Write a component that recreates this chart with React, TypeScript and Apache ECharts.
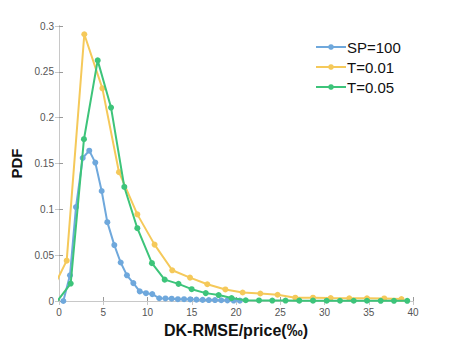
import React, { useEffect, useRef } from "react";
import * as echarts from "echarts";

const blueX = [0.49, 1.24, 1.92, 2.68, 3.42, 4.1, 4.82, 5.46, 6.25, 6.97, 7.68, 8.4, 9.12, 9.83, 10.54, 11.33, 12.03, 12.73, 13.43, 14.13, 14.83, 15.53, 16.23, 16.93, 17.63, 18.33, 19.03, 19.73, 20.43];
const blueY = [0, 0.028, 0.1025, 0.156, 0.164, 0.151, 0.12, 0.086, 0.061, 0.042, 0.028, 0.0195, 0.0105, 0.0085, 0.0075, 0.003, 0.0028, 0.0025, 0.002, 0.002, 0.0018, 0.0015, 0.0012, 0.001, 0.001, 0.0008, 0.0007, 0.0005, 0.0004];

const yellowX = [-1.13, 0.87, 2.86, 4.9, 6.78, 8.85, 10.8, 12.8, 14.8, 16.76, 18.8, 20.75, 22.75, 24.7, 26.7, 28.7, 30.7, 32.8, 34.8, 36.75, 38.7];
const yellowY = [0.005, 0.044, 0.291, 0.232, 0.1405, 0.0945, 0.0615, 0.0335, 0.0255, 0.0183, 0.0126, 0.0093, 0.0082, 0.0068, 0.0036, 0.0036, 0.0032, 0.003, 0.003, 0.0028, 0.0022];

const greenX = [-0.18, 1.32, 2.82, 4.37, 5.88, 7.38, 8.85, 10.5, 11.94, 13.5, 14.99, 16.58, 18.04, 19.5, 21.1, 22.6, 24.1, 25.6, 27.15, 28.7, 30.25, 31.75, 33.3, 34.8, 36.35, 37.85, 39.35];
const greenY = [0, 0.019, 0.1765, 0.2625, 0.211, 0.1244, 0.0794, 0.0413, 0.0233, 0.0187, 0.0129, 0.0086, 0.0065, 0.0032, 0.0008, 0.0006, 0.0005, 0.0005, 0.0004, 0.0004, 0.0003, 0.0003, 0.0003, 0.0003, 0.0002, 0.0002, 0.0002];

const seriesNames = ["SP=100", "T=0.01", "T=0.05"];
const seriesColors = ["#6FA8DC", "#F5C95A", "#3DC47A"];

const FONT = "'Liberation Sans', Arial, sans-serif";

function zip(xs: number[], ys: number[]) {
  return xs.map((x, i) => [x, ys[i]]);
}

export default function App() {
  const ref = useRef<HTMLDivElement>(null);
  useEffect(() => {
    if (!ref.current) return;
    const chart = echarts.init(ref.current, null, { renderer: "svg" });
    const axisLineColor = "#9a9a9a";
    const labelStyle = { color: "#555", fontSize: 10, fontFamily: FONT };
    const datasets = [zip(blueX, blueY), zip(yellowX, yellowY), zip(greenX, greenY)];
    chart.setOption({
      animation: false,
      backgroundColor: "#fff",
      grid: { left: 59, right: 44, top: 26, bottom: 39, containLabel: false },
      legend: {
        data: seriesNames,
        orient: "vertical",
        left: 315,
        top: 39,
        padding: 0,
        itemWidth: 30,
        itemHeight: 7,
        itemGap: 4,
        textStyle: { fontSize: 15, lineHeight: 16, color: "#111", fontFamily: FONT, padding: [0, 0, 0, -4] },
      },
      xAxis: [
        {
          type: "value",
          min: 0,
          max: 40,
          interval: 5,
          position: "bottom",
          name: "DK-RMSE/price(‰)",
          nameLocation: "middle",
          nameGap: 21,
          nameTextStyle: { fontSize: 16, fontWeight: "bold", color: "#111", fontFamily: FONT },
          axisLine: { show: true, lineStyle: { color: axisLineColor, width: 1 } },
          axisTick: { show: true, inside: true, length: 4, lineStyle: { color: axisLineColor } },
          axisLabel: { ...labelStyle, margin: 6 },
          splitLine: { show: false },
        },
        {
          type: "value",
          min: 0,
          max: 40,
          interval: 5,
          position: "top",
          axisLine: { show: true, lineStyle: { color: "#c8c8c8", width: 1 } },
          axisTick: { show: true, inside: true, length: 4, lineStyle: { color: "#c8c8c8" } },
          axisLabel: { show: false },
          splitLine: { show: false },
        },
      ],
      yAxis: [
        {
          type: "value",
          min: 0,
          max: 0.3,
          interval: 0.05,
          position: "left",
          name: "PDF",
          nameLocation: "middle",
          nameGap: 29,
          nameTextStyle: { fontSize: 15, fontWeight: "bold", color: "#111", fontFamily: FONT },
          axisLine: { show: true, lineStyle: { color: axisLineColor, width: 1 } },
          axisTick: { show: true, inside: true, length: 4, lineStyle: { color: axisLineColor } },
          axisLabel: { ...labelStyle, margin: 5 },
          splitLine: { show: false },
        },
        {
          type: "value",
          min: 0,
          max: 0.3,
          interval: 0.05,
          position: "right",
          axisLine: { show: true, lineStyle: { color: "#c8c8c8", width: 1 } },
          axisTick: { show: true, inside: true, length: 4, lineStyle: { color: "#c8c8c8" } },
          axisLabel: { show: false },
          splitLine: { show: false },
        },
      ],
      series: seriesNames.map((name, i) => ({
        name,
        type: "line",
        xAxisIndex: 0,
        yAxisIndex: 0,
        data: datasets[i],
        symbol: "circle",
        symbolSize: 6,
        showAllSymbol: true,
        clip: true,
        lineStyle: { color: seriesColors[i], width: 2 },
        itemStyle: { color: seriesColors[i] },
        z: 2 + i,
      })),
    });
    return () => chart.dispose();
  }, []);
  return (
    <div
      ref={ref}
      style={{ position: "fixed", left: 0, top: 0, width: 457, height: 343, background: "#fff" }}
    />
  );
}
